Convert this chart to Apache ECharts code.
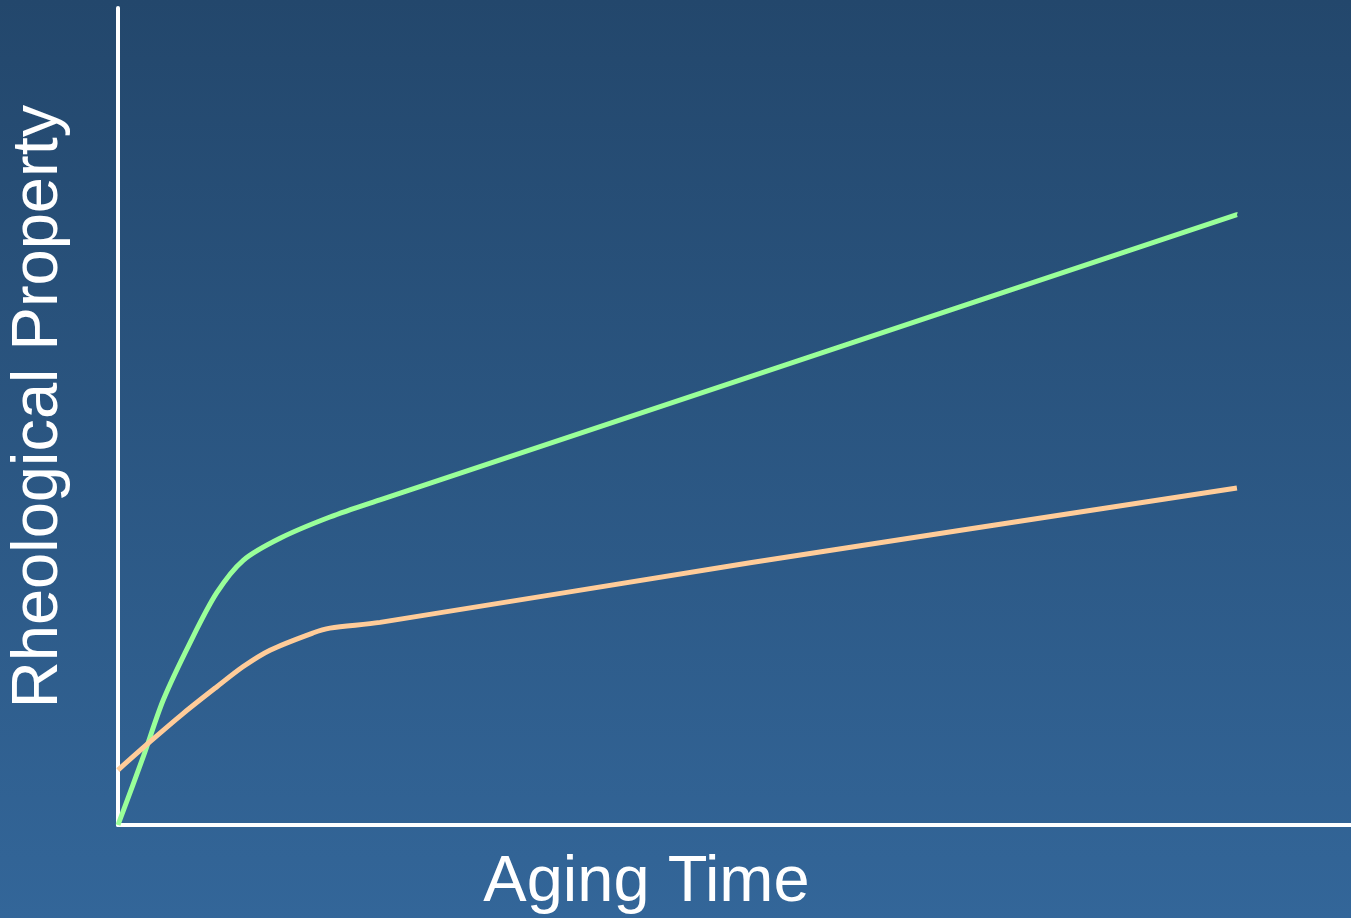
<!DOCTYPE html>
<html>
<head>
<meta charset="utf-8">
<script src="https://cdn.jsdelivr.net/npm/echarts@6/dist/echarts.min.js"></script>
<style>
  html, body { margin: 0; padding: 0; }
  #chart { width: 1351px; height: 918px; }
</style>
</head>
<body>
<div id="chart"></div>
<script>
// schematic curves, arbitrary units (0-100 on both axes)
var greenX = [0, 2.05, 3.67, 5.84, 8.0, 10.16, 13.14, 17.19, 21.25, 90.75];
var greenY = [0, 8.36, 15.3, 22.3, 28.4, 32.4, 35.1, 37.7, 39.8, 74.7];
var orangeX = [0, 2.6, 5.3, 8.0, 10.16, 12.33, 15.8, 17.19, 21.25, 51.26, 90.75];
var orangeY = [6.73, 10.2, 13.67, 16.9, 19.4, 21.4, 23.5, 24.1, 24.8, 32.1, 41.25];

function pairs(xs, ys) {
    return xs.map(function (x, i) { return [x, ys[i]]; });
}

var chart = echarts.init(document.getElementById('chart'));
chart.setOption({
    backgroundColor: new echarts.graphic.LinearGradient(0, 0, 0, 1, [
        { offset: 0, color: '#23476c' },
        { offset: 1, color: '#336699' }
    ]),
    animation: false,
    grid: { left: 118, right: 0, top: 8, bottom: 93, outerBoundsMode: 'none' },
    xAxis: {
        type: 'value',
        min: 0,
        max: 100,
        name: 'Aging Time',
        nameLocation: 'middle',
        nameGap: 26,
        nameTextStyle: {
            color: '#ffffff', fontSize: 65, fontFamily: 'Liberation Sans',
            padding: [0, 176, 0, 0]
        },
        axisLine: { lineStyle: { color: '#ffffff', width: 4 } },
        axisTick: { show: false },
        axisLabel: { show: false },
        splitLine: { show: false }
    },
    yAxis: {
        type: 'value',
        min: 0,
        max: 100,
        name: 'Rheological Property',
        nameLocation: 'middle',
        nameGap: 46,
        nameTextStyle: {
            color: '#ffffff', fontSize: 65, fontFamily: 'Liberation Sans',
            padding: [0, 0, 0, 20]
        },
        axisLine: { show: true, lineStyle: { color: '#ffffff', width: 4 } },
        axisTick: { show: false },
        axisLabel: { show: false },
        splitLine: { show: false }
    },
    series: [{
        type: 'line',
        data: pairs(greenX, greenY),
        smooth: 0.3,
        symbol: 'none',
        lineStyle: { color: '#99ff99', width: 5 }
    }, {
        type: 'line',
        data: pairs(orangeX, orangeY),
        smooth: 0.3,
        symbol: 'none',
        lineStyle: { color: '#ffcc99', width: 5 }
    }]
});
</script>
</body>
</html>
